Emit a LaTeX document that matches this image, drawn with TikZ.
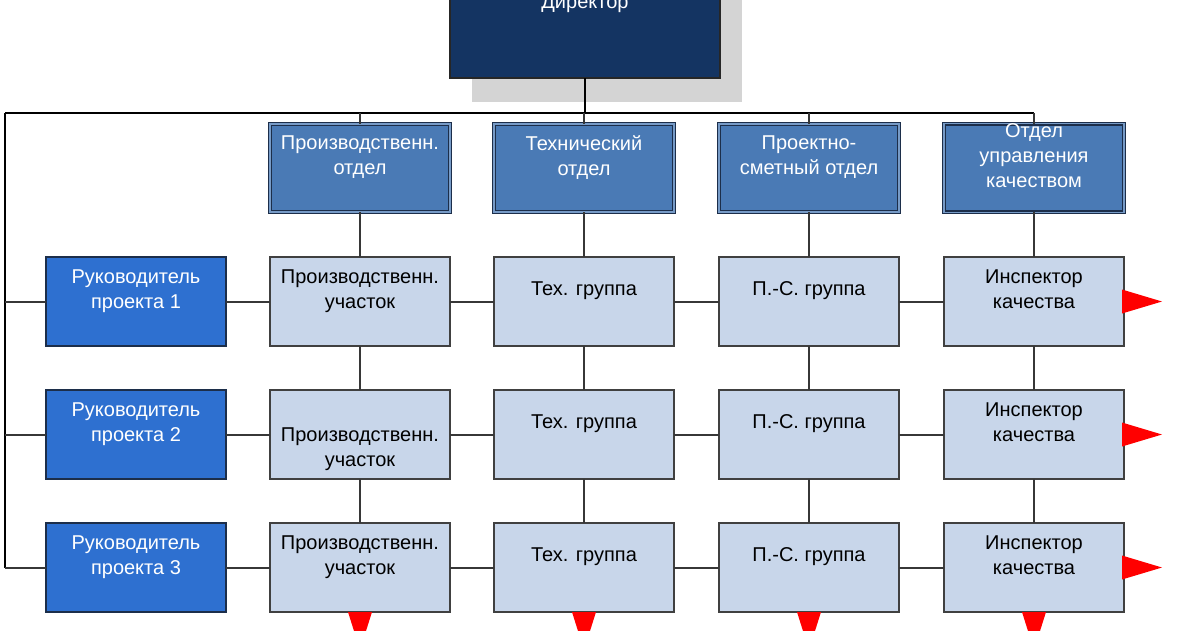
\documentclass[tikz,border=0pt]{standalone}
\usepackage{fontspec}
\setmainfont{Liberation Sans}
\usepackage{tikz}
\usetikzlibrary{positioning,shadows}

\definecolor{dirblue}{RGB}{20,52,98}
\definecolor{depblue}{RGB}{74,122,181}
\definecolor{depline}{RGB}{28,46,74}
\definecolor{pmblue}{RGB}{46,112,208}
\definecolor{cellblue}{RGB}{200,214,234}
\definecolor{linegray}{RGB}{55,55,55}

\begin{document}
\begin{tikzpicture}[x=1pt,y=-1pt,
    box/.style={rectangle,draw,inner sep=0pt,outer sep=0pt,align=center,
                minimum width=180pt,minimum height=89pt,
                font=\fontsize{20}{25}\selectfont},
    dir node/.style={box,fill=dirblue,draw=black!85,line width=2pt,text=white,
                     minimum width=270pt,minimum height=128pt,
                     drop shadow={shadow xshift=22pt,shadow yshift=-24pt,
                                  fill=black!17,opacity=1}},
    dep node/.style={box,fill=depblue,draw=depline,line width=1.4pt,
                     double=depblue!75!white,double distance=1.2pt,text=white,
                     minimum height=88pt},
    pm node/.style={box,fill=pmblue,draw=depline,line width=1.4pt,text=white},
    cell node/.style={box,fill=cellblue,draw=black!75,line width=1.4pt},
    link/.style={draw=linegray,line width=2pt},
    bus/.style={draw=black,line width=2.4pt},
    redmark/.style={fill=red}
  ]
  \useasboundingbox (0,0) rectangle (1200,630);

  % director and departments
  \node[dir node] (dir) at (585,14) {Директор\\~};
  \node[dep node] (dep1) at (360,168) {Производственн.\\отдел\\~};
  \node[dep node] (dep2) at (584,168) {Технический\\отдел\\~};
  \node[dep node] (dep3) at (809,168) {Проектно-\\сметный отдел\\~};
  \node[dep node] (dep4) at (1034,168) {Отдел\\управления\\качеством\\~};

  % project managers
  \node[pm node] (pm1) at (136,301.5) {Руководитель\\проекта 1\\~};
  \node[pm node] (pm2) at (136,434.5) {Руководитель\\проекта 2\\~};
  \node[pm node] (pm3) at (136,567.5) {Руководитель\\проекта 3\\~};

  % row 1
  \node[cell node] (uch1) at (360,301.5) {Производственн.\\участок\\~};
  \node[cell node] (tex1) at (584,301.5) {Тех. группа\\~};
  \node[cell node] (ps1) at (809,301.5) {П.-С. группа\\~};
  \node[cell node] (insp1) at (1034,301.5) {Инспектор\\качества\\~};
  % row 2
  \node[cell node] (uch2) at (360,434.5) {\strut\\Производственн.\\участок};
  \node[cell node] (tex2) at (584,434.5) {Тех. группа\\~};
  \node[cell node] (ps2) at (809,434.5) {П.-С. группа\\~};
  \node[cell node] (insp2) at (1034,434.5) {Инспектор\\качества\\~};
  % row 3
  \node[cell node] (uch3) at (360,567.5) {Производственн.\\участок\\~};
  \node[cell node] (tex3) at (584,567.5) {Тех. группа\\~};
  \node[cell node] (ps3) at (809,567.5) {П.-С. группа\\~};
  \node[cell node] (insp3) at (1034,567.5) {Инспектор\\качества\\~};

  \coordinate (busL) at (5,113);
  \coordinate (busR) at (1034,113);

  % main bus
  \draw[bus] (dir.south) -- (dir.south |- busL);
  \draw[bus] (busL) -- (busR);
  \draw[bus] (busL) -- (busL |- pm3);
  \path[link]
    (busR) edge (dep4.north)
    (dep1.north) edge (dep1.north |- busL)
    (dep2.north) edge (dep2.north |- busL)
    (dep3.north) edge (dep3.north |- busL)
    (busL |- pm1) edge (pm1.west)
    (busL |- pm2) edge (pm2.west)
    (busL |- pm3) edge (pm3.west);

  % rows
  \path[link]
    (pm1) edge (uch1) (uch1) edge (tex1) (tex1) edge (ps1) (ps1) edge (insp1)
    (pm2) edge (uch2) (uch2) edge (tex2) (tex2) edge (ps2) (ps2) edge (insp2)
    (pm3) edge (uch3) (uch3) edge (tex3) (tex3) edge (ps3) (ps3) edge (insp3);

  % columns
  \path[link]
    (dep1) edge (uch1) (uch1) edge (uch2) (uch2) edge (uch3)
    (dep2) edge (tex1) (tex1) edge (tex2) (tex2) edge (tex3)
    (dep3) edge (ps1) (ps1) edge (ps2) (ps2) edge (ps3)
    (dep4) edge (insp1) (insp1) edge (insp2) (insp2) edge (insp3);

  % red markers
  \foreach \n in {insp1,insp2,insp3}
    \fill[redmark] (\n.east) ++(-2,-12) -- ++(40,12) -- ++(-40,12) -- cycle;
  \foreach \n in {uch3,tex3,ps3,insp3}
    \fill[redmark] (\n.south) ++(-12,0) -- ++(24,0) -- ++(-12,38) -- cycle;
\end{tikzpicture}
\end{document}
